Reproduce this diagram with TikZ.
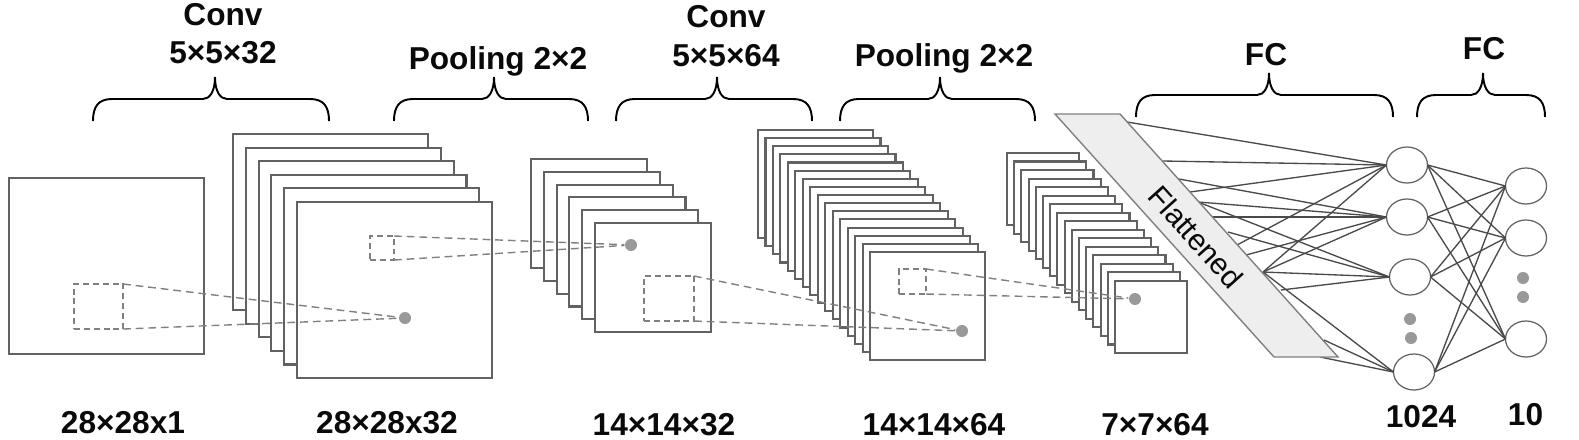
\documentclass[tikz,border=0pt]{standalone}
\usepackage{fontspec}
\setmainfont{Liberation Sans}
\usetikzlibrary{shapes.geometric}
\definecolor{cnngray}{HTML}{626262}
\definecolor{cnndash}{HTML}{808080}
\definecolor{cnnline}{HTML}{4A4A4A}
\definecolor{cnndot}{HTML}{999999}
\definecolor{cnnflat}{HTML}{EEEEEE}
\definecolor{cnntext}{HTML}{0A0A0A}
\tikzset{
  featuremap/.style={draw=cnngray, fill=white, line width=0.6pt, inner sep=0, outer sep=0, anchor=north west},
  window/.style={draw=cnndash, dash pattern=on 1.7pt off 1.1pt, line width=0.4pt, inner sep=0, outer sep=0, anchor=north west},
  ray/.style={draw=cnndash, dash pattern=on 2.2pt off 1.4pt, line width=0.4pt},
  pixel/.style={circle, fill=cnndot, inner sep=0, minimum size=0.12cm},
  neuron/.style={ellipse, draw=cnngray, fill=white, line width=0.35pt, inner sep=0, outer sep=0, minimum width=0.41cm, minimum height=0.36cm},
  dense/.style={draw=cnnline, line width=0.38pt},
  title/.style={font=\fontsize{9}{10}\selectfont\bfseries, text=cnntext, anchor=base, inner sep=0},
  opbrace/.style={draw=black, line width=0.55pt}
}
\newcommand{\opcurl}[4]{
  \draw[opbrace] (#1,#4) .. controls (#1,{#4-14}) and ({#1+5},{#4-22}) .. ({#1+19},{#4-22})
    -- ({#2-12},{#4-22}) .. controls ({#2-5},{#4-22}) and (#2,{#4-30}) .. (#2,{#4-44})
    .. controls (#2,{#4-30}) and ({#2+5},{#4-22}) .. ({#2+12},{#4-22})
    -- ({#3-19},{#4-22}) .. controls ({#3-5},{#4-22}) and (#3,{#4-14}) .. (#3,#4);
}
\begin{document}
\begin{tikzpicture}[x=0.01cm, y=-0.01cm]
  \useasboundingbox (0,0) rectangle (1579,439);
  \node[featuremap, minimum width=1.95cm, minimum height=1.76cm] (inputmap) at (9,178) {};
  \foreach \i in {0,...,5}
    \node[featuremap, minimum width=1.95cm, minimum height=1.76cm] (conva\i) at ({233+\i*12.8},{134+\i*13.6}) {};
  \foreach \i in {0,...,5}
    \node[featuremap, minimum width=1.16cm, minimum height=1.09cm] (poola\i) at ({531+\i*12.8},{159+\i*12.8}) {};
  \foreach \i in {0,...,15}
    \node[featuremap, minimum width=1.15cm, minimum height=1.08cm] (convb\i) at ({758+\i*7.47},{130+\i*8.13}) {};
  \foreach \i in {0,...,15}
    \node[featuremap, minimum width=0.72cm, minimum height=0.72cm] (poolb\i) at ({1007+\i*7.2},{153+\i*8.53}) {};

  \node[window, minimum width=0.49cm, minimum height=0.45cm] (wina) at (74,284) {};
  \node[window, minimum width=0.24cm, minimum height=0.24cm] (winb) at (370,236) {};
  \node[window, minimum width=0.50cm, minimum height=0.45cm] (winc) at (644,276) {};
  \node[window, minimum width=0.27cm, minimum height=0.25cm] (wind) at (899,269) {};
  \node[pixel] (pixa) at (405,318) {};
  \node[pixel] (pixb) at (631,245) {};
  \node[pixel] (pixc) at (962,331) {};
  \node[pixel] (pixd) at (1135,299) {};
  \draw[ray] (wina.north east) -- (pixa);
  \draw[ray] (wina.south east) -- (pixa);
  \draw[ray] (winb.north east) -- (pixb);
  \draw[ray] (winb.south east) -- (pixb);
  \draw[ray] (winc.north east) -- (pixc);
  \draw[ray] (winc.south east) -- (pixc);
  \draw[ray] (wind.north east) -- (pixd);
  \draw[ray] (wind.south east) -- (pixd);

  \node[neuron] (hid1) at (1407,165) {};
  \node[neuron] (hid2) at (1407,217) {};
  \node[neuron] (hid3) at (1410,277) {};
  \node[neuron] (hid4) at (1414,372) {};
  \node[neuron] (out1) at (1526,186) {};
  \node[neuron] (out2) at (1526,238) {};
  \node[neuron] (out3) at (1526,339) {};
  \foreach \i in {1,...,4}
    \foreach \j in {1,2,3}
      \draw[dense] (hid\i.east) -- (out\j.west);

  \foreach \n/\x/\y in {a/1127/122, b/1163/161, c/1179/179, d/1190/192, e/1198/202, f/1213/217, g/1228/232, h/1237/245, k/1246/255, m/1263/272, p/1281/290, q/1324/340, r/1320/357}
    \coordinate (flat\n) at (\x,\y);
  \foreach \n in {a,b,d,h,m}
    \draw[dense] (flat\n) -- (hid1.west);
  \foreach \n in {c,e,f,k,m}
    \draw[dense] (flat\n) -- (hid2.west);
  \foreach \n in {e,g,m,p}
    \draw[dense] (flat\n) -- (hid3.west);
  \foreach \n in {m,q,r}
    \draw[dense] (flat\n) -- (hid4.west);

  \filldraw[fill=cnnflat, draw=gray, line width=0.4pt] (1055,114) -- (1120,114) -- (1338,357) -- (1274,357) -- cycle;
  \node[rotate=-48, font=\fontsize{8.5}{10}\selectfont, text=cnntext, inner sep=0] (flatlabel) at (1196,237) {Flattened};

  \foreach \n/\x/\y in {dota/1410/319, dotb/1411/338, dotc/1523/278, dotd/1523/297}
    \node[pixel] (\n) at (\x,\y) {};

  \opcurl{93}{215}{329}{121}
  \opcurl{394}{494}{588}{121}
  \opcurl{616}{717}{812}{121}
  \opcurl{840}{940}{1035}{121}
  \opcurl{1136}{1269}{1393}{117}
  \opcurl{1417}{1483}{1545}{117}

  \node[title] (conva) at (223,25) {Conv};
  \node[title] (convasize) at (223,63) {5×5×32};
  \node[title] (poola) at (498,69.5) {Pooling 2×2};
  \node[title] (convb) at (726,27) {Conv};
  \node[title] (convbsize) at (726,66) {5×5×64};
  \node[title] (poolb) at (944,66) {Pooling 2×2};
  \node[title] (fca) at (1266,65) {FC};
  \node[title] (fcb) at (1484,59) {FC};
  \node[title] (sizea) at (123,433) {28×28x1};
  \node[title] (sizeb) at (387,433) {28×28x32};
  \node[title] (sizec) at (664,435) {14×14×32};
  \node[title] (sized) at (934,435) {14×14×64};
  \node[title] (sizee) at (1155,435) {7×7×64};
  \node[title] (sizef) at (1421,427) {1024};
  \node[title] (sizeg) at (1525.5,425) {10};
\end{tikzpicture}
\end{document}
